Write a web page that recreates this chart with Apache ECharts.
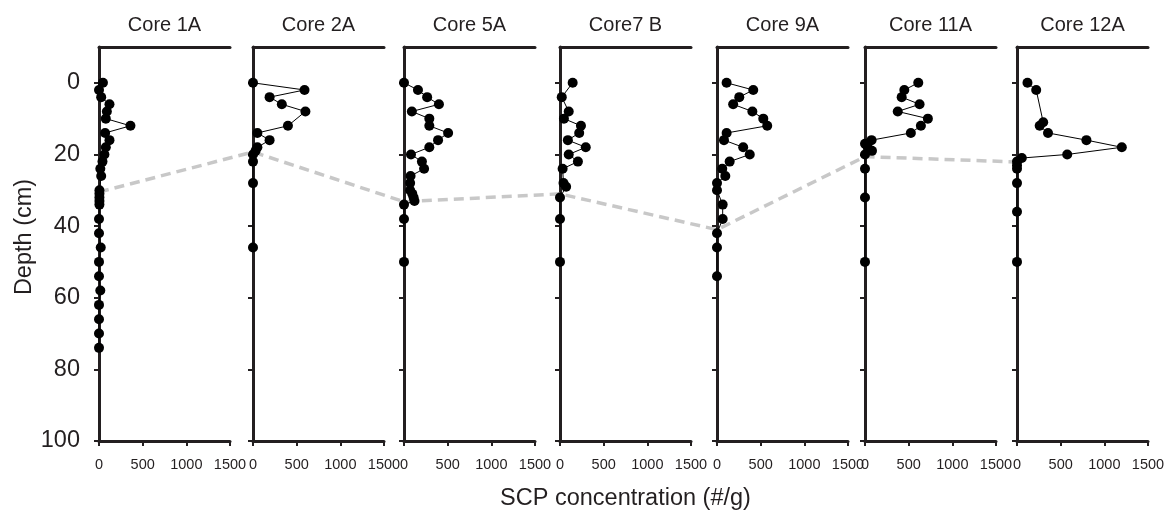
<!DOCTYPE html>
<html>
<head>
<meta charset="utf-8">
<script src="https://cdn.jsdelivr.net/npm/echarts@6/dist/echarts.min.js"></script>
<style>
  html, body { margin: 0; padding: 0; background: #fff; }
  #chart { width: 1169px; height: 512px; }
</style>
</head>
<body>
<div id="chart"></div>
<script>
  // panel titles
  const coreNames = ['Core 1A', 'Core 2A', 'Core 5A', 'Core7 B', 'Core 9A', 'Core 11A', 'Core 12A'];

  // depth (cm) and SCP concentration (#/g) per core
  const core1Depth = [0, 2, 4, 6, 8, 10, 12, 14, 16, 18, 20, 22, 24, 26, 30, 31, 32, 33, 34, 38, 42, 46, 50, 54, 58, 62, 66, 70, 74];
  const core1Scp   = [45, 0, 25, 120, 90, 78, 360, 70, 120, 78, 62, 40, 15, 25, 5, 5, 5, 5, 5, 0, 0, 20, 0, 0, 15, 0, 0, 0, 0];
  const core2Depth = [0, 2, 4, 6, 8, 12, 14, 16, 18, 19, 20, 22, 28, 46];
  const core2Scp   = [0, 590, 190, 330, 600, 400, 50, 190, 50, 30, 0, 0, 0, 0];
  const core5Depth = [0, 2, 4, 6, 8, 10, 12, 14, 16, 18, 20, 22, 24, 26, 28, 30, 31, 32, 33, 34, 38, 50];
  const core5Scp   = [0, 160, 265, 400, 90, 290, 290, 505, 390, 290, 80, 205, 230, 75, 70, 70, 95, 110, 120, 0, 0, 0];
  const core7Depth = [0, 4, 8, 10, 12, 14, 16, 18, 20, 22, 24, 28, 29, 32, 38, 50];
  const core7Scp   = [145, 20, 100, 45, 240, 220, 90, 295, 100, 205, 30, 40, 70, 0, 0, 0];
  const core9Depth = [0, 2, 4, 6, 8, 10, 12, 14, 16, 18, 20, 22, 24, 26, 28, 30, 34, 38, 42, 46, 54];
  const core9Scp   = [110, 415, 255, 185, 405, 530, 575, 110, 80, 300, 375, 145, 60, 95, 0, 0, 65, 65, 0, 0, 0];
  const core11Depth = [0, 2, 4, 6, 8, 10, 12, 14, 16, 17, 18, 19, 20, 24, 32, 50];
  const core11Scp   = [610, 450, 420, 625, 375, 720, 640, 525, 75, 0, 30, 80, 0, 0, 0, 0];
  const core12Depth = [0, 2, 11, 12, 14, 16, 18, 20, 21, 22, 23, 24, 28, 36, 50];
  const core12Scp   = [120, 220, 300, 260, 355, 795, 1200, 575, 55, 0, 0, 0, 0, 0, 0];

  // depth of the dashed marker horizon in each core
  const horizonDepth = [30.5, 19.3, 33.2, 31, 41, 20.6, 22.1];

  const depthTicks = [0, 20, 40, 60, 80, 100];
  const scpTicks = [0, 500, 1000, 1500];

  const depths = [core1Depth, core2Depth, core5Depth, core7Depth, core9Depth, core11Depth, core12Depth];
  const scps = [core1Scp, core2Scp, core5Scp, core7Scp, core9Scp, core11Scp, core12Scp];

  const ink = '#231f20';
  const font = 'Liberation Sans, Arial, sans-serif';
  const panelLeft = [99, 253, 404, 560, 717, 865, 1017];
  const panelW = 131;
  const gridTop = 47;
  const gridH = 394;
  const plain = v => String(v);

  const grids = [], xAxes = [], topAxes = [], yAxes = [], series = [], titles = [];

  panelLeft.forEach((left, i) => {
    grids.push({ left: left, top: gridTop, width: panelW, height: gridH });
    xAxes.push({
      type: 'value', gridIndex: i, position: 'bottom', min: 0, max: 1500, interval: 500,
      axisLine: { onZero: false, lineStyle: { color: ink, width: 3 } },
      axisTick: { length: 5, lineStyle: { color: ink, width: 2 } },
      axisLabel: { color: ink, fontSize: 14.5, fontFamily: font, margin: 16, showMinLabel: true, showMaxLabel: true,
        customValues: scpTicks, formatter: plain },
      splitLine: { show: false }
    });
    topAxes.push({
      type: 'value', gridIndex: i, position: 'top', min: 0, max: 1500,
      axisLine: { onZero: false, lineStyle: { color: ink, width: 3 } },
      axisTick: { show: false }, axisLabel: { show: false }, splitLine: { show: false }
    });
    yAxes.push({
      type: 'value', gridIndex: i, inverse: true, min: -10, max: 100,
      name: i === 0 ? 'Depth (cm)' : '', nameLocation: 'middle', nameGap: 62, nameRotate: 90,
      nameTextStyle: { color: ink, fontSize: 23.5, fontFamily: font, padding: [0, 0, 0, 14] },
      axisLine: { onZero: false, lineStyle: { color: ink, width: 3 } },
      axisTick: { length: 5, customValues: depthTicks, lineStyle: { color: ink, width: 2 } },
      axisLabel: { show: i === 0, customValues: depthTicks, color: ink, fontSize: 23.5, fontFamily: font, margin: 19,
        formatter: plain },
      splitLine: { show: false }
    });
    series.push({
      type: 'line', xAxisIndex: i, yAxisIndex: i,
      data: depths[i].map((d, k) => [scps[i][k], d]),
      symbol: 'circle', symbolSize: 10,
      itemStyle: { color: '#000' },
      lineStyle: { color: '#000', width: 1 },
      z: 3
    });
    titles.push({
      text: coreNames[i], left: left + panelW / 2, top: 15, textAlign: 'center', padding: 0,
      textStyle: { color: ink, fontSize: 20, fontWeight: 'normal', fontFamily: font }
    });
  });

  titles.push({
    text: 'SCP concentration (#/g)', left: panelLeft[3] + panelW / 2, top: 487, textAlign: 'center', padding: 0,
    textStyle: { color: ink, fontSize: 23.5, fontWeight: 'normal', fontFamily: font }
  });

  const chart = echarts.init(document.getElementById('chart'), null, { renderer: 'canvas' });
  chart.setOption({
    animation: false,
    backgroundColor: '#fff',
    title: titles,
    grid: grids,
    xAxis: xAxes.concat(topAxes),
    yAxis: yAxes,
    series: series
  });

  // dashed horizon linking the cores, placed through each panel's own scales
  const horizonPts = horizonDepth.map((d, i) => chart.convertToPixel({ xAxisIndex: i, yAxisIndex: i }, [0, d]));
  chart.setOption({
    graphic: [{
      type: 'polyline', z: 1,
      shape: { points: horizonPts },
      style: { fill: null, stroke: '#c8c8c8', lineWidth: 3.5, lineDash: [10, 6] }
    }]
  });
</script>
</body>
</html>
